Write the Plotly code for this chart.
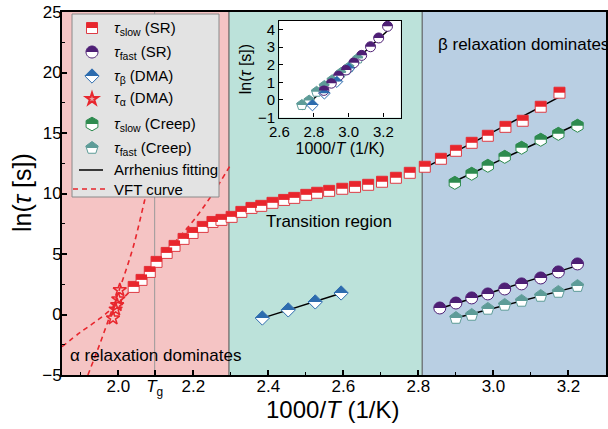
import numpy as np
import plotly.graph_objects as go

# ---------------- data ----------------
slow_sr_x = [2.041, 2.062, 2.084, 2.102, 2.129, 2.150, 2.174, 2.198, 2.225, 2.251,
             2.275, 2.302, 2.328, 2.355, 2.381, 2.411, 2.442, 2.469, 2.501, 2.530,
             2.562, 2.597, 2.631, 2.666, 2.703, 2.740, 2.777, 2.817, 2.860, 2.900,
             2.942, 2.985, 3.032, 3.078, 3.126, 3.176]
slow_sr_y = [2.28, 2.86, 3.52, 4.35, 5.09, 5.67, 6.25, 6.74, 7.24, 7.65,
             7.82, 8.07, 8.48, 8.81, 8.98, 9.23, 9.47, 9.64, 9.89, 10.06,
             10.22, 10.39, 10.55, 10.72, 10.97, 11.30, 11.71, 12.21, 12.87, 13.53,
             14.19, 14.77, 15.51, 16.01, 17.17, 18.33]
fast_sr_x = [2.857, 2.900, 2.942, 2.985, 3.030, 3.075, 3.126, 3.173, 3.224]
fast_sr_y = [0.54, 0.95, 1.37, 1.70, 2.11, 2.53, 3.02, 3.52, 4.18]
beta_x = [2.384, 2.453, 2.525, 2.594]
beta_y = [-0.29, 0.38, 1.04, 1.78]
alpha_x = [2.004, 2.000, 1.997, 1.993, 1.986]
alpha_y = [2.03, 1.26, 0.79, 0.43, -0.31]
slow_creep_x = [2.897, 2.942, 2.985, 3.030, 3.075, 3.126, 3.173, 3.224]
slow_creep_y = [10.88, 11.63, 12.29, 13.03, 13.78, 14.44, 14.93, 15.60]
fast_creep_x = [2.900, 2.942, 2.985, 3.030, 3.075, 3.126, 3.173, 3.224]
fast_creep_y = [-0.29, -0.04, 0.46, 0.79, 1.12, 1.53, 1.86, 2.35]
vft1_x = [1.85, 1.90, 1.95, 2.00, 2.05, 2.10, 2.15, 2.20, 2.25, 2.30]
vft1_y = [-2.66, -1.45, -0.35, 0.95, 2.55, 4.20, 5.95, 7.75, 9.90, 12.40]
vft2_x = [1.919, 1.95, 1.98, 2.01, 2.04, 2.07, 2.09]
vft2_y = [-5.0, -2.5, 0.1, 2.7, 5.6, 9.4, 12.0]
# inset (shifted data as drawn in the inset)
inset_fast_creep_x = [2.730, 2.772, 2.815, 2.860, 2.905, 2.956, 3.003, 3.054]
inset_beta_x = [2.791, 2.860, 2.932, 3.001]

Tg = 2.097
region_edges = [1.85, 2.295, 2.81, 3.3]
x_ticks = [2.0, Tg, 2.2, 2.4, 2.6, 2.8, 3.0, 3.2]
x_ticktext = ["2.0", "<i>T</i><sub>g</sub>", "2.2", "2.4", "2.6", "2.8", "3.0", "3.2"]
x_minor = [1.9, 2.1, 2.3, 2.5, 2.7, 2.9, 3.1]
inset_x_ticks = [2.6, 2.8, 3.0, 3.2]

legend_labels = ["<i>τ</i><sub>slow</sub> (SR)", "<i>τ</i><sub>fast</sub> (SR)",
                 "<i>τ</i><sub>β</sub> (DMA)", "<i>τ</i><sub>α</sub> (DMA)",
                 "<i>τ</i><sub>slow</sub> (Creep)", "<i>τ</i><sub>fast</sub> (Creep)",
                 "Arrhenius fitting", "VFT curve"]

# ---------------- style ----------------
FONT = "Liberation Sans, Arial, sans-serif"
RED = "#E8262D"
RED_EDGE = "#DD3B44"
PURPLE = "#4E1F75"
BLUE = "#2D6CAE"
GREEN = "#2E8B4F"
TEAL = "#5E9C98"
PINK_BG = "#F5C4C4"
TEAL_BG = "#BCE2DA"
BLUE_BG = "#B9CFE3"

W, H = 608, 429
ML, MR, MT, MB = 62, 2, 12, 54
PW = W - ML - MR
PH = H - MT - MB


def px_x(px):
    return (px - ML) / PW


def px_y(py):
    return (H - MB - py) / PH


def f(v):
    return f"{v:.2f}"


def sym_paths(sym, size):
    r = size / 2
    if sym == "square":
        full = f"M{f(-r)},{f(-r)}L{f(r)},{f(-r)}L{f(r)},{f(r)}L{f(-r)},{f(r)}Z"
        top = f"M{f(-r)},0L{f(r)},0L{f(r)},{f(r)}L{f(-r)},{f(r)}Z"
    elif sym == "circle":
        k = 0.5523 * r
        top = (f"M{f(-r)},0C{f(-r)},{f(k)} {f(-k)},{f(r)} 0,{f(r)}"
               f"C{f(k)},{f(r)} {f(r)},{f(k)} {f(r)},0Z")
        full = (f"M{f(-r)},0C{f(-r)},{f(k)} {f(-k)},{f(r)} 0,{f(r)}"
                f"C{f(k)},{f(r)} {f(r)},{f(k)} {f(r)},0"
                f"C{f(r)},{f(-k)} {f(k)},{f(-r)} 0,{f(-r)}"
                f"C{f(-k)},{f(-r)} {f(-r)},{f(-k)} {f(-r)},0Z")
    elif sym == "diamond":
        d = 1.3 * r
        full = f"M{f(d)},0L0,{f(d)}L{f(-d)},0L0,{f(-d)}Z"
        top = f"M{f(-d)},0L0,{f(d)}L{f(d)},0Z"
    elif sym == "hexagon":
        r1, r2, r3 = 1.05 * r, 0.525 * r, 0.909 * r
        full = (f"M{f(r3)},{f(r2)}L0,{f(r1)}L{f(-r3)},{f(r2)}L{f(-r3)},{f(-r2)}"
                f"L0,{f(-r1)}L{f(r3)},{f(-r2)}Z")
        top = f"M{f(-r3)},0L{f(-r3)},{f(r2)}L0,{f(r1)}L{f(r3)},{f(r2)}L{f(r3)},0Z"
    elif sym == "pentagon":
        full = (f"M0,{f(r)}L{f(0.951*r)},{f(0.309*r)}L{f(0.588*r)},{f(-0.809*r)}"
                f"L{f(-0.588*r)},{f(-0.809*r)}L{f(-0.951*r)},{f(0.309*r)}Z")
        top = (f"M{f(-0.851*r)},0L{f(-0.951*r)},{f(0.309*r)}L0,{f(r)}"
               f"L{f(0.951*r)},{f(0.309*r)}L{f(0.851*r)},0Z")
    else:  # star
        rs = 1.4 * r
        x1, x2, x3, x4 = 0.225 * rs, 0.951 * rs, 0.363 * rs, 0.588 * rs
        y0, y1, y3, y4, y5 = rs, 0.309 * rs, -0.118 * rs, -0.809 * rs, -0.382 * rs
        full = (f"M{f(x1)},{f(y1)}H{f(x2)}L{f(x3)},{f(y3)}L{f(x4)},{f(y4)}L0,{f(y5)}"
                f"L{f(-x4)},{f(y4)}L{f(-x3)},{f(y3)}L{f(-x2)},{f(y1)}H{f(-x1)}L0,{f(y0)}Z")
        top = None
    return full, top


fig = go.Figure()
shapes = []

# regions
region_colors = [PINK_BG, TEAL_BG, BLUE_BG]
for i, c in enumerate(region_colors):
    shapes.append(dict(type="rect", xref="x", yref="paper", x0=region_edges[i],
                       x1=region_edges[i + 1], y0=0, y1=1, fillcolor=c,
                       line=dict(width=0), layer="below"))
for e in region_edges[1:3]:
    shapes.append(dict(type="line", xref="x", yref="paper", x0=e, x1=e, y0=0, y1=1,
                       line=dict(color="#4d4d4d", width=1), layer="below"))
shapes.append(dict(type="line", xref="x", yref="paper", x0=Tg, x1=Tg, y0=0, y1=1,
                   line=dict(color="#9a9a9a", width=1), layer="below"))

# VFT curves
for vx, vy in [(vft1_x, vft1_y), (vft2_x, vft2_y)]:
    fig.add_trace(go.Scatter(x=vx, y=vy, mode="lines", showlegend=False,
                             line=dict(color=RED, width=1.6, dash="5px,4px"),
                             line_shape="spline", hoverinfo="skip"))


def fit_line(xs, ys, xref="x", yref="y"):
    xs = np.asarray(xs, float)
    ys = np.asarray(ys, float)
    p = np.polyfit(xs, ys, 1)
    lx = np.array([xs.min(), xs.max()])
    fig.add_trace(go.Scatter(x=lx, y=np.polyval(p, lx), mode="lines",
                             showlegend=False, line=dict(color="black", width=1.5),
                             xaxis=xref, yaxis=yref, hoverinfo="skip"))


hi_x = [x for x in slow_sr_x if x >= 2.81]
hi_y = [y for x, y in zip(slow_sr_x, slow_sr_y) if x >= 2.81]
fit_line(hi_x, hi_y)
fit_line(slow_creep_x, slow_creep_y)
fit_line(fast_sr_x, fast_sr_y)
fit_line(fast_creep_x, fast_creep_y)
fit_line(beta_x, beta_y)


def half_markers(xs, ys, sym, size, color, edge, xref="x", yref="y"):
    fig.add_trace(go.Scatter(
        x=xs, y=ys, mode="markers", showlegend=False, xaxis=xref, yaxis=yref,
        marker=dict(symbol=sym, size=size, color="white",
                    line=dict(color=edge, width=1))))
    _, top = sym_paths(sym, size)
    for x, y in zip(xs, ys):
        shapes.append(dict(type="path", xref=xref, yref=yref, xsizemode="pixel",
                           ysizemode="pixel", xanchor=x, yanchor=y, path=top,
                           fillcolor=color, line=dict(width=0), layer="above"))


half_markers(slow_sr_x, slow_sr_y, "square", 11, RED, RED_EDGE)
half_markers(slow_creep_x, slow_creep_y, "hexagon", 13, GREEN, GREEN)
half_markers(fast_creep_x, fast_creep_y, "pentagon", 13, TEAL, TEAL)
half_markers(fast_sr_x, fast_sr_y, "circle", 12, PURPLE, PURPLE)
half_markers(beta_x, beta_y, "diamond", 11, BLUE, BLUE)
fig.add_trace(go.Scatter(x=alpha_x, y=alpha_y, mode="markers", showlegend=False,
                         marker=dict(symbol="star-open", size=10, color=RED,
                                     line=dict(width=1.5))))

# inset
inset_all_x = list(fast_sr_x) + inset_fast_creep_x + inset_beta_x
inset_all_y = list(fast_sr_y) + list(fast_creep_y) + list(beta_y)
fit_line(inset_all_x, inset_all_y, "x2", "y2")
half_markers(inset_fast_creep_x, fast_creep_y, "pentagon", 11, TEAL, TEAL, "x2", "y2")
half_markers(inset_beta_x, beta_y, "diamond", 9, BLUE, BLUE, "x2", "y2")
half_markers(fast_sr_x, fast_sr_y, "circle", 10, PURPLE, PURPLE, "x2", "y2")

# legend (drawn manually so the split markers can be shown)
annotations = []
shapes.append(dict(type="rect", xref="paper", yref="paper", x0=px_x(72), x1=px_x(219),
                   y0=px_y(197), y1=px_y(14), fillcolor="#E3E3E3",
                   line=dict(color="#8a8a8a", width=1), layer="above"))
rows = [28, 52, 76, 99, 124, 148, 170, 189]
leg_syms = [("square", 11, RED, RED_EDGE), ("circle", 12, PURPLE, PURPLE),
            ("diamond", 11, BLUE, BLUE), ("star", 9, RED, RED),
            ("hexagon", 13, GREEN, GREEN), ("pentagon", 13, TEAL, TEAL)]
for (sym, size, col, edge), py in zip(leg_syms, rows):
    full, top = sym_paths(sym, size)
    base = dict(type="path", xref="paper", yref="paper", xsizemode="pixel",
                ysizemode="pixel", xanchor=px_x(92), yanchor=px_y(py), layer="above")
    if sym == "star":
        shapes.append(dict(base, path=full, fillcolor="rgba(232,38,45,0.35)",
                           line=dict(color=col, width=2)))
    else:
        shapes.append(dict(base, path=full, fillcolor="white",
                           line=dict(color=edge, width=1)))
        shapes.append(dict(base, path=top, fillcolor=col, line=dict(width=0)))
shapes.append(dict(type="line", xref="paper", yref="paper", x0=px_x(79), x1=px_x(103),
                   y0=px_y(rows[6]), y1=px_y(rows[6]),
                   line=dict(color="black", width=1.5), layer="above"))
shapes.append(dict(type="line", xref="paper", yref="paper", x0=px_x(73), x1=px_x(108),
                   y0=px_y(rows[7]), y1=px_y(rows[7]),
                   line=dict(color=RED, width=1.6, dash="5px,4px"), layer="above"))
for lab, py in zip(legend_labels, rows):
    annotations.append(dict(xref="paper", yref="paper", x=px_x(112), y=px_y(py),
                            xanchor="left", yanchor="middle", text=lab, showarrow=False,
                            font=dict(family=FONT, size=15, color="black")))

# region labels
annotations.append(dict(xref="x", yref="y", x=1.866, y=-3.35, xanchor="left",
                        yanchor="middle", text="α relaxation dominates", showarrow=False,
                        font=dict(family=FONT, size=17, color="black")))
annotations.append(dict(xref="x", yref="y", x=2.562, y=7.65, xanchor="center",
                        yanchor="middle", text="Transition region", showarrow=False,
                        font=dict(family=FONT, size=17, color="black")))
annotations.append(dict(xref="x", yref="y", x=2.847, y=22.3, xanchor="left",
                        yanchor="middle", text="β relaxation dominates", showarrow=False,
                        font=dict(family=FONT, size=17, color="black")))

# main axis titles
annotations.append(dict(xref="paper", yref="paper", x=px_x(332), y=px_y(409),
                        xanchor="center", yanchor="middle", showarrow=False,
                        text="1000/<i>T</i> (1/K)",
                        font=dict(family=FONT, size=24, color="black")))
annotations.append(dict(xref="paper", yref="paper", x=px_x(22), y=px_y(193),
                        xanchor="center", yanchor="middle", showarrow=False,
                        textangle=-90, text="ln(<i>τ</i> [s])",
                        font=dict(family=FONT, size=25, color="black")))

axis_common = dict(showgrid=False, zeroline=False, showline=True, linecolor="black",
                   mirror=True, ticks="inside", tickcolor="black",
                   ticklabeloverflow="allow")

fig.update_layout(
    width=W, height=H, margin=dict(l=ML, r=MR, t=MT, b=MB, autoexpand=False),
    paper_bgcolor="white", plot_bgcolor="white",
    font=dict(family=FONT, color="black"),
    shapes=shapes, annotations=annotations, showlegend=False,
    xaxis=dict(axis_common, range=[1.85, 3.3], linewidth=2, tickwidth=1.5, ticklen=5,
               tickmode="array", tickvals=x_ticks, ticktext=x_ticktext,
               tickfont=dict(size=17), ticklabelstandoff=-5,
               minor=dict(ticks="inside", tickmode="array", tickvals=x_minor,
                          ticklen=3, tickcolor="black", tickwidth=1.2)),
    yaxis=dict(axis_common, range=[-5, 25], linewidth=2, tickwidth=1.5, ticklen=5,
               dtick=5, tick0=0, tickfont=dict(size=17), ticklabelstandoff=-5,
               minor=dict(ticks="inside", dtick=2.5, tick0=0, ticklen=3,
                          tickcolor="black", tickwidth=1.2)),
    xaxis2=dict(axis_common, domain=[px_x(279.3), px_x(400.7)], anchor="y2",
                range=[2.6, 3.3], tickmode="array", tickvals=inset_x_ticks,
                tickformat=".1f", linewidth=1.2, ticklen=4, tickwidth=1,
                tickfont=dict(size=15),
                title=dict(text="1000/<i>T</i> (1/K)", font=dict(size=16), standoff=0)),
    yaxis2=dict(axis_common, domain=[px_y(117.5), px_y(20.7)], anchor="x2",
                range=[-1, 4.5], dtick=1, tick0=0, linewidth=1.2, ticklen=4,
                tickwidth=1, tickfont=dict(size=15),
                title=dict(text="ln(<i>τ</i> [s])", font=dict(size=16), standoff=2)),
)

fig.write_html("out.html", config={"displayModeBar": False},
               post_script="document.body.style.margin='0px';")
